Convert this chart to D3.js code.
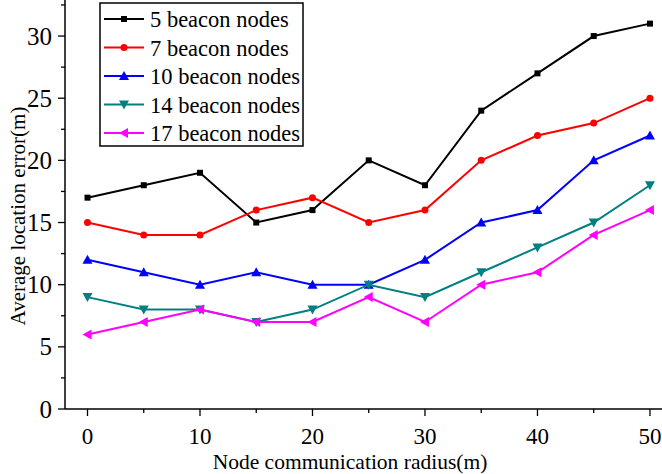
<!DOCTYPE html>
<html>
<head>
<meta charset="utf-8">
<script src="https://cdn.jsdelivr.net/npm/d3@7"></script>
<style>
  body { margin: 0; background: #fff; }
  text { font-family: "Liberation Serif", "Times New Roman", serif; }
</style>
</head>
<body>
<svg id="chart" width="662" height="474"></svg>
<script>
// radius values (x) and location errors per beacon count
var radius = [0, 5, 10, 15, 20, 25, 30, 35, 40, 45, 50];
var beacon5  = [17, 18, 19, 15, 16, 20, 18, 24, 27, 30, 31];
var beacon7  = [15, 14, 14, 16, 17, 15, 16, 20, 22, 23, 25];
var beacon10 = [12, 11, 10, 11, 10, 10, 12, 15, 16, 20, 22];
var beacon14 = [9, 8, 8, 7, 8, 10, 9, 11, 13, 15, 18];
var beacon17 = [6, 7, 8, 7, 7, 9, 7, 10, 11, 14, 16];
var seriesNames = ["5 beacon nodes", "7 beacon nodes", "10 beacon nodes", "14 beacon nodes", "17 beacon nodes"];
var xTicks = [0, 10, 20, 30, 40, 50];
var yTicks = [0, 5, 10, 15, 20, 25, 30];

var series = [
  {name: seriesNames[0], values: beacon5,  color: "#000000", symbol: "square"},
  {name: seriesNames[1], values: beacon7,  color: "#ff0000", symbol: "circle"},
  {name: seriesNames[2], values: beacon10, color: "#0000ff", symbol: "up"},
  {name: seriesNames[3], values: beacon14, color: "#008080", symbol: "down"},
  {name: seriesNames[4], values: beacon17, color: "#ff00ff", symbol: "left"}
];

var svg = d3.select("#chart");

var x = d3.scaleLinear().domain([-2, 51.07]).range([65, 662]);
var y = d3.scaleLinear().domain([0, 32.9]).range([409, 0]);

// axes
var xAxis = svg.append("g").attr("transform", "translate(0,409)");
xAxis.append("line").attr("x1", 65).attr("x2", 662).attr("stroke", "#000").attr("stroke-width", 1.5);
d3.range(0, 51, 5).forEach(function(v) {
  var major = v % 10 === 0;
  xAxis.append("line").attr("x1", x(v)).attr("x2", x(v)).attr("y1", 0).attr("y2", major ? 7 : 4)
    .attr("stroke", "#000").attr("stroke-width", 1.3);
});
xAxis.selectAll(".xl").data(xTicks).enter().append("text")
  .attr("x", function(d) { return x(d); }).attr("y", 35)
  .attr("text-anchor", "middle").attr("font-size", "23px").text(function(d) { return d; });

var yAxis = svg.append("g");
yAxis.append("line").attr("x1", 65).attr("x2", 65).attr("y1", 0).attr("y2", 409).attr("stroke", "#000").attr("stroke-width", 1.5);
d3.range(0, 32.6, 2.5).forEach(function(v) {
  var major = v % 5 === 0;
  yAxis.append("line").attr("x1", 65).attr("x2", major ? 58 : 61).attr("y1", y(v)).attr("y2", y(v))
    .attr("stroke", "#000").attr("stroke-width", 1.3);
});
yAxis.selectAll(".yl").data(yTicks).enter().append("text")
  .attr("x", 52).attr("y", function(d) { return y(d) + 8.5; })
  .attr("text-anchor", "end").attr("font-size", "25px").text(function(d) { return d; });

svg.append("text").attr("x", 350).attr("y", 469).attr("text-anchor", "middle")
  .attr("font-size", "21.5px").text("Node communication radius(m)");
svg.append("text").attr("transform", "translate(25,216) rotate(-90)").attr("text-anchor", "middle")
  .attr("font-size", "21px").text("Average location error(m)");

function drawSymbol(g, type, cx, cy, color) {
  if (type === "square") {
    g.append("rect").attr("x", cx - 3).attr("y", cy - 3).attr("width", 6).attr("height", 6).attr("fill", color);
  } else if (type === "circle") {
    g.append("circle").attr("cx", cx).attr("cy", cy).attr("r", 3.5).attr("fill", color);
  } else {
    var s = 5, pts;
    if (type === "up") pts = [[0, -s], [s, s * 0.8], [-s, s * 0.8]];
    if (type === "down") pts = [[0, s], [s, -s * 0.8], [-s, -s * 0.8]];
    if (type === "left") pts = [[-s, 0], [s * 0.8, -s], [s * 0.8, s]];
    g.append("polygon").attr("points", pts.map(function(p) { return (cx + p[0]) + "," + (cy + p[1]); }).join(" "))
      .attr("fill", color);
  }
}

var line = d3.line().x(function(d, i) { return x(radius[i]); }).y(function(d) { return y(d); });

series.forEach(function(s) {
  var g = svg.append("g");
  g.append("path").datum(s.values).attr("d", line).attr("fill", "none")
    .attr("stroke", s.color).attr("stroke-width", 2);
  s.values.forEach(function(v, i) { drawSymbol(g, s.symbol, x(radius[i]), y(v), s.color); });
});

// legend
var legend = svg.append("g");
legend.append("rect").attr("x", 100).attr("y", 3).attr("width", 203).attr("height", 143)
  .attr("fill", "#fff").attr("stroke", "#000").attr("stroke-width", 1.5);
series.forEach(function(s, i) {
  var ly = 19 + i * 28.5;
  legend.append("line").attr("x1", 104).attr("x2", 144).attr("y1", ly).attr("y2", ly)
    .attr("stroke", s.color).attr("stroke-width", 2);
  drawSymbol(legend, s.symbol, 124, ly, s.color);
  legend.append("text").attr("x", 150).attr("y", ly + 8).attr("font-size", "22.5px").text(s.name);
});
</script>
</body>
</html>
